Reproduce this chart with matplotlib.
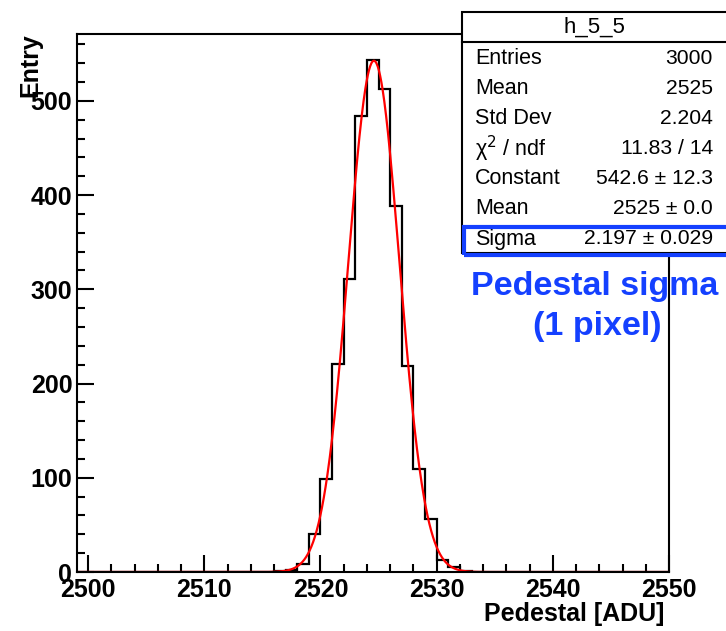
import numpy as np
import matplotlib
matplotlib.use("Agg")
import matplotlib.pyplot as plt
from matplotlib.patches import Rectangle
from matplotlib.lines import Line2D
from matplotlib.ticker import MultipleLocator

plt.rcParams['font.family'] = ['Liberation Sans', 'DejaVu Sans']

# histogram contents (1 ADU bins, lower edge -> entries)
bin_low = [2516, 2517, 2518, 2519, 2520, 2521, 2522, 2523, 2524,
           2525, 2526, 2527, 2528, 2529, 2530, 2531, 2532]
entries = [1, 2, 8, 40, 99, 221, 311, 484, 543,
           513, 388, 219, 109, 56, 13, 5, 1]

# gaussian fit parameters
fit_const = 542.6
fit_mean = 2524.6
fit_sigma = 2.197

stat_names = ["Entries", "Mean", "Std Dev", "χ$^{2}$ / ndf", "Constant", "Mean", "Sigma"]
stat_values = ["3000", "2525", "2.204", "11.83 / 14", "542.6 ± 12.3",
               "2525 ± 0.0", "2.197 ± 0.029"]

x_lo, x_hi = 2499, 2550
W, H = 726, 631

def fx(px):
    return px / W

def fy(py):
    return 1 - py / H

fig = plt.figure(figsize=(W / 100, H / 100), dpi=100)
ax = fig.add_axes([fx(76.5), fy(572), (669 - 76.5) / W, (572 - 34) / H])

edges = np.arange(x_lo, x_hi + 1)
counts = np.zeros(len(edges) - 1)
for lo, n in zip(bin_low, entries):
    counts[lo - x_lo] = n
ax.stairs(counts, edges, color='black', linewidth=1.6, baseline=None)

xf = np.linspace(x_lo, x_hi, 1000)
yf = fit_const * np.exp(-0.5 * ((xf - fit_mean) / fit_sigma) ** 2)
ax.plot(xf, yf, color='red', linewidth=1.6)

ax.set_xlim(x_lo, x_hi)
ax.set_ylim(0, 571)
ax.xaxis.set_major_locator(MultipleLocator(10))
ax.xaxis.set_minor_locator(MultipleLocator(2))
ax.yaxis.set_major_locator(MultipleLocator(100))
ax.yaxis.set_minor_locator(MultipleLocator(20))
ax.tick_params(which='both', direction='in', top=False, right=False, width=1.5)
ax.tick_params(which='major', length=12)
ax.tick_params(which='minor', length=6)
ax.tick_params(axis='x', which='major', pad=4)
ax.tick_params(axis='y', which='major', pad=3)
for lab in ax.get_xticklabels() + ax.get_yticklabels():
    lab.set_fontweight('bold')
    lab.set_fontsize(18)
for sp in ax.spines.values():
    sp.set_linewidth(1.5)

fig.text(fx(664), fy(614), "Pedestal [ADU]", ha='right', va='center',
         fontsize=18, fontweight='bold')
fig.text(fx(30), fy(33), "Entry", ha='center', va='top', rotation=90,
         fontsize=18, fontweight='bold')

# stats box
fig.patches.append(Rectangle((fx(462), fy(253)), (740 - 462) / W, (253 - 12) / H,
                             transform=fig.transFigure, facecolor='white',
                             edgecolor='black', linewidth=1.5, zorder=5))
fig.lines.append(Line2D([fx(462), fx(740)], [fy(42), fy(42)],
                        transform=fig.transFigure, color='black', linewidth=1.5, zorder=6))
fig.text(fx(594), fy(27), "h_5_5", ha='center', va='center', fontsize=16, zorder=7)
for i, (name, val) in enumerate(zip(stat_names, stat_values)):
    yy = fy(59 + i * 30)
    fig.text(fx(475), yy, name, ha='left', va='center', fontsize=15.5, zorder=7)
    fig.text(fx(713), yy, val, ha='right', va='center', fontsize=15.2, zorder=7)

blue = '#1440ff'
fig.patches.append(Rectangle((fx(463.5), fy(255)), (740 - 463.5) / W, (255 - 226.5) / H,
                             transform=fig.transFigure, facecolor='none',
                             edgecolor=blue, linewidth=3, zorder=8))
fig.text(fx(595), fy(287), "Pedestal sigma", ha='center', va='center',
         fontsize=24.5, fontweight='bold', color=blue, zorder=8)
fig.text(fx(597), fy(327), "(1 pixel)", ha='center', va='center',
         fontsize=24.5, fontweight='bold', color=blue, zorder=8)

fig.savefig("out.png", dpi=100)
